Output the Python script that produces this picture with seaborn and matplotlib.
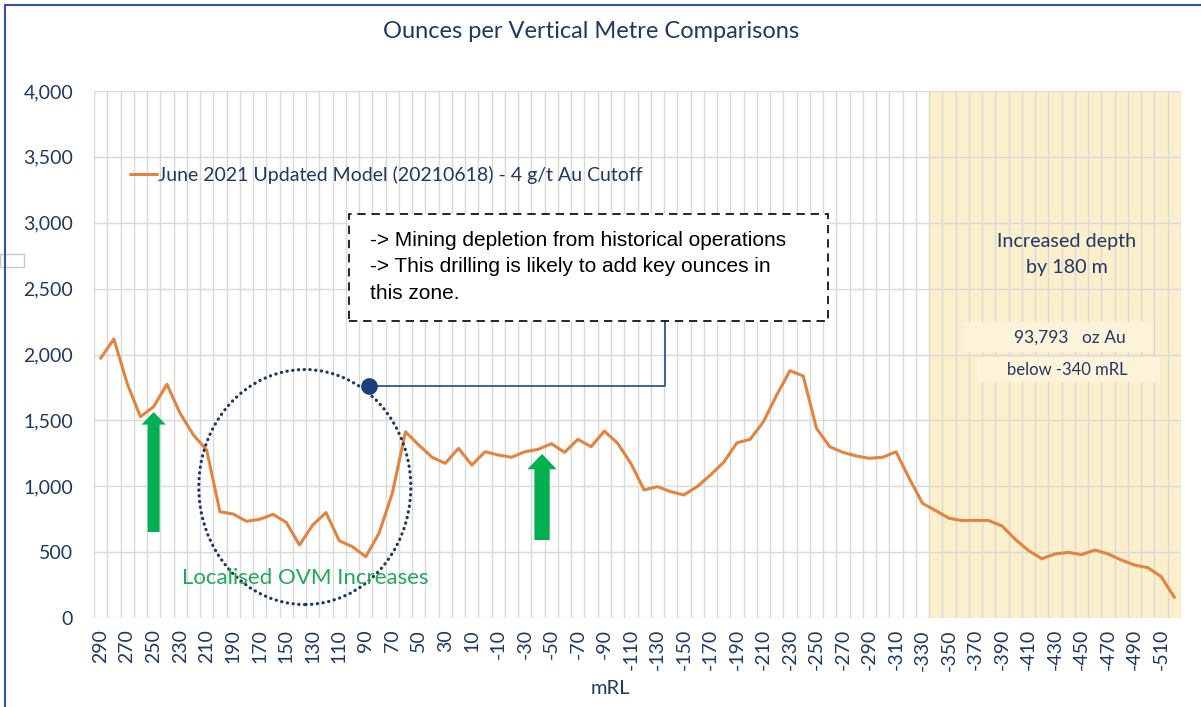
import matplotlib
matplotlib.use("Agg")
import matplotlib.pyplot as plt
import numpy as np
import pandas as pd
import seaborn as sns
from matplotlib.patches import Ellipse, Rectangle
from matplotlib.lines import Line2D

# mRL levels, 10 m steps from 290 down to -520
mrl = list(range(290, -521, -10))
ovm = [
    1971, 2118, 1781, 1528, 1604, 1774, 1553, 1389, 1275, 807,
    789, 734, 749, 787, 726, 554, 706, 800, 587, 541,
    465, 643, 946, 1414, 1313, 1220, 1174, 1288, 1161, 1262,
    1237, 1220, 1262, 1280, 1323, 1257, 1356, 1300, 1419, 1326,
    1174, 972, 997, 959, 934, 997, 1085, 1182, 1330, 1356,
    1490, 1693, 1877, 1837, 1440, 1300, 1257, 1230, 1212, 1220,
    1262, 1060, 870, 815, 757, 739, 740, 740, 698, 597,
    511, 450, 486, 498, 481, 516, 486, 440, 402, 382,
    314, 157,
]
x_ticks = list(range(290, -521, -20))
y_ticks = list(range(0, 4001, 500))
series_name = "June 2021 Updated Model (20210618) - 4 g/t Au Cutoff"

NAVY = "#1F3864"
ORANGE = "#E2843F"
GREEN = "#00B050"

sns.set_theme(style="white")
plt.rcParams["font.family"] = ["Lato", "DejaVu Sans"]

df = pd.DataFrame({"mRL": mrl, "ovm": ovm})

fig = plt.figure(figsize=(12.01, 7.07), dpi=100)
ax = fig.add_axes([94 / 1201, 1 - 618 / 707, 1087 / 1201, 527 / 707])

# deeper zone shading (below -340 mRL)
ax.axvspan(-335, -525, color="#FCEFCC", zorder=0.3, lw=0)

sns.lineplot(data=df, x="mRL", y="ovm", color=ORANGE, linewidth=2.2, ax=ax, zorder=5, legend=False)

ax.set_xlim(295, -525)
ax.set_ylim(0, 4000)
ax.set_xticks(x_ticks)
ax.set_xticklabels([str(v) for v in x_ticks], rotation=90, fontsize=14, color=NAVY)
ax.set_xticks(np.arange(295, -526, -10), minor=True)
ax.set_yticks(y_ticks)
ax.set_yticklabels([f"{v:,}" for v in y_ticks], fontsize=14, color=NAVY)
ax.tick_params(axis="both", which="both", length=0)
ax.tick_params(axis="x", pad=8)
ax.tick_params(axis="y", pad=15)
ax.set_axisbelow(True)
ax.grid(axis="x", which="minor", color="#D9D9D9", linewidth=1.0)
ax.grid(axis="x", which="major", visible=False)
ax.grid(axis="y", which="major", color="#D9D9D9", linewidth=1.0)
for s in ax.spines.values():
    s.set_visible(False)
ax.set_xlabel("")
ax.set_ylabel("")

# legend
leg_handle = Line2D([], [], color=ORANGE, linewidth=2.2)
ax.legend([leg_handle], [series_name], loc="center left", bbox_to_anchor=(0.033, 0.8406),
          frameon=False, handlelength=1.4, handletextpad=0.05, fontsize=14, labelcolor=NAVY,
          borderaxespad=0, borderpad=0)

# green arrows
for xa, y0, y1, tw, hw, hl in [(250, 653, 1563, 8.6, 17.5, 9.0), (-43, 592, 1245, 11.0, 21.0, 11.0)]:
    ax.annotate("", xy=(xa, y1), xytext=(xa, y0),
                arrowprops=dict(arrowstyle=f"simple,tail_width={tw},head_width={hw},head_length={hl}",
                                color=GREEN, mutation_scale=1, shrinkA=0, shrinkB=0, lw=0),
                zorder=4)

# dotted ellipse around the low zone
ell = Ellipse((136, 994), width=160, height=1784, fill=False, edgecolor=NAVY,
              linewidth=2.3, linestyle=(0, (0.1, 1.7)), capstyle="round", zorder=6)
ax.add_patch(ell)
ax.text(0.1946, 0.076, "Localised OVM Increases", transform=ax.transAxes, ha="center", va="center",
        fontsize=16, color="#21A85A", zorder=7)

# callout box
box = Rectangle((0.2346, 0.5636), 0.4407, 0.2030, transform=ax.transAxes, facecolor="white",
                edgecolor="black", linewidth=1.2, linestyle=(0, (5, 3.5)), zorder=8)
ax.add_patch(box)
ax.text(0.2539, 0.735, "-> Mining depletion from historical operations\n"
        "-> This drilling is likely to add key ounces in\nthis zone.",
        transform=ax.transAxes, ha="left", va="top", fontsize=15, color="black",
        family=["Liberation Sans", "DejaVu Sans"], linespacing=1.5, zorder=9)
ax.plot([0.2530, 0.5253, 0.5253], [0.4402, 0.4402, 0.5636], transform=ax.transAxes,
        color="#2F5597", linewidth=1.3, zorder=7)
ax.plot([0.2530], [0.4402], transform=ax.transAxes, marker="o", markersize=11,
        color="#1B3F7C", zorder=8)

# deeper zone labels
ax.text(0.895, 0.690, "Increased depth\nby 180 m", transform=ax.transAxes, ha="center", va="center",
        fontsize=14.2, color=NAVY, linespacing=1.6, zorder=9)
ax.add_patch(Rectangle((0.7994, 0.5047), 0.1748, 0.0570, transform=ax.transAxes,
                       facecolor="#FDF3DA", edgecolor="none", zorder=2))
ax.add_patch(Rectangle((0.8123, 0.4478), 0.1684, 0.0475, transform=ax.transAxes,
                       facecolor="#FDF3DA", edgecolor="none", zorder=2))
ax.text(0.898, 0.5313, "93,793   oz Au", transform=ax.transAxes, ha="center", va="center",
        fontsize=12.5, color=NAVY, zorder=9)
ax.text(0.895, 0.4706, "below -340 mRL", transform=ax.transAxes, ha="center", va="center",
        fontsize=12, color=NAVY, zorder=9)

# titles
fig.text(591 / 1201, 1 - 32 / 707, "Ounces per Vertical Metre Comparisons", ha="center", va="center",
         fontsize=17, color=NAVY)
fig.text(610 / 1201, 1 - 688 / 707, "mRL", ha="center", va="center", fontsize=14.5, color=NAVY)

# frame edges and stray box from the source slide
fig.add_artist(Line2D([5 / 1201, 5 / 1201], [0, 1 - 5 / 707], transform=fig.transFigure,
                      color="#2F5597", linewidth=1.5))
fig.add_artist(Line2D([5 / 1201, 1], [1 - 5 / 707, 1 - 5 / 707], transform=fig.transFigure,
                      color="#2F5597", linewidth=1.5))
fig.add_artist(Rectangle((0, 1 - 267 / 707), 24 / 1201, 13 / 707, transform=fig.transFigure,
                         facecolor="white", edgecolor="#C8C8C8", linewidth=1))

fig.savefig("out.png", dpi=100)
